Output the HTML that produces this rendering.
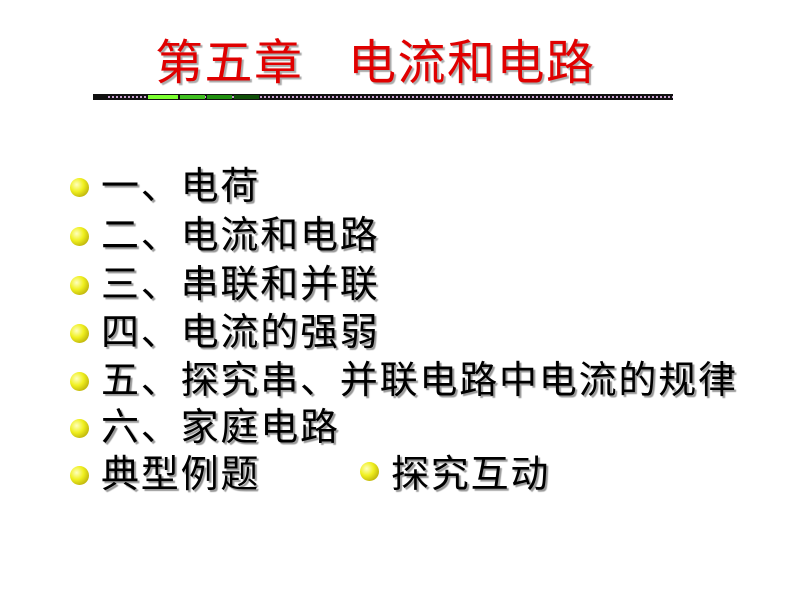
<html><head><style>
body{margin:0;width:800px;height:600px;background:#fff;position:relative;overflow:hidden;font-family:"Liberation Sans","Noto Sans CJK SC",sans-serif}
.t{position:absolute;top:36px;left:155px;font-size:48px;letter-spacing:1.5px;color:#e00000;text-shadow:2px 2px 1px #aaa;white-space:pre;line-height:56px}
.bar{position:absolute;left:93px;top:94px;width:580px;height:6px;background:#111}
.bar i{position:absolute;top:2px;height:2px}
.l{position:absolute;font-size:38px;letter-spacing:1.8px;color:#000;text-shadow:2px 2px 1px #999;line-height:44px;white-space:nowrap}
.b{position:absolute;width:19px;height:19px;border-radius:50%;background:radial-gradient(circle at 35% 35%,#ffffc0 0%,#f0f020 40%,#a09000 100%)}
</style></head><body>
<div class="t">第五章   电流和电路</div>
<div class="bar"><i style="left:15px;width:565px;background:repeating-linear-gradient(90deg,#c8a0d0 0 2px,transparent 2px 4px)"></i><i style="left:55px;width:30px;top:1px;height:4px;background:#7cff30"></i><i style="left:87px;width:25px;top:1px;height:4px;background:#40c020"></i><i style="left:114px;width:25px;top:1px;height:4px;background:#209010"></i><i style="left:141px;width:25px;top:1px;height:4px;background:#105008"></i></div>
<div class="b" style="left:70px;top:178px"></div><div class="l" style="left:101px;top:165px">一、电荷</div>
<div class="b" style="left:70px;top:227px"></div><div class="l" style="left:101px;top:214px">二、电流和电路</div>
<div class="b" style="left:70px;top:276px"></div><div class="l" style="left:101px;top:263px">三、串联和并联</div>
<div class="b" style="left:70px;top:324px"></div><div class="l" style="left:101px;top:311px">四、电流的强弱</div>
<div class="b" style="left:70px;top:372px"></div><div class="l" style="left:101px;top:359px">五、探究串、并联电路中电流的规律</div>
<div class="b" style="left:70px;top:419px"></div><div class="l" style="left:101px;top:406px">六、家庭电路</div>
<div class="b" style="left:70px;top:466px"></div><div class="l" style="left:101px;top:453px">典型例题</div>
<div class="b" style="left:360px;top:462px"></div><div class="l" style="left:391px;top:453px">探究互动</div>
</body></html>
